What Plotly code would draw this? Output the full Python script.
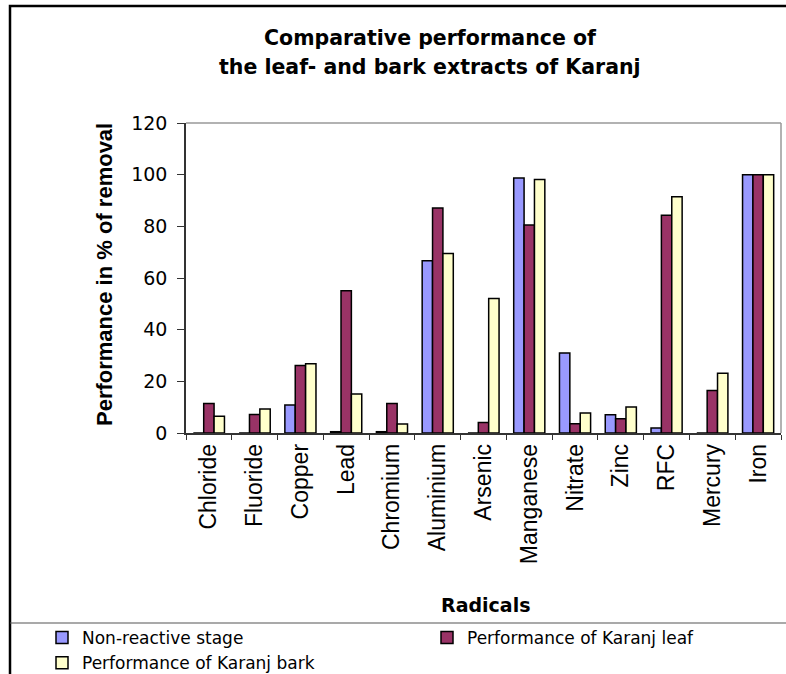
import plotly.graph_objects as go

# 读取数据
radicals = ['Chloride', 'Fluoride', 'Copper', 'Lead', 'Chromium', 'Aluminium', 'Arsenic',
            'Manganese', 'Nitrate', 'Zinc', 'RFC', 'Mercury', 'Iron']
non_reactive = [0, 0, 10.8, 0.5, 0.5, 66.7, 0, 98.7, 31.0, 7.1, 1.9, 0, 100]
karanj_leaf = [11.4, 7.2, 26.1, 55.1, 11.4, 87.1, 4.1, 80.5, 3.6, 5.5, 84.3, 16.5, 100]
karanj_bark = [6.5, 9.3, 26.8, 15.1, 3.5, 69.5, 52.1, 98.1, 7.7, 10.1, 91.5, 23.1, 100]

W, H = 786, 674
L, R, T, B = 186, 781, 123, 433  # 绘图区像素位置

def px(x):
    return (x - L) / (R - L)

def py(y):
    return (B - y) / (B - T)

fig = go.Figure()
for name, vals, col in [('Non-reactive stage', non_reactive, '#9999FF'),
                        ('Performance of Karanj leaf', karanj_leaf, '#993366'),
                        ('Performance of Karanj bark', karanj_bark, '#FFFFCC')]:
    fig.add_trace(go.Bar(x=radicals, y=vals, name=name,
                         marker=dict(color=col, line=dict(color='black', width=1.5))))

wide = 'DejaVu Sans, sans-serif'
narrow = 'Liberation Sans, Arial, sans-serif'
fig.update_layout(
    width=W, height=H,
    margin=dict(l=L, r=W - R, t=T, b=H - B, autoexpand=False),
    paper_bgcolor='white', plot_bgcolor='white',
    barmode='group', bargap=0.32, bargroupgap=0,
    font=dict(family=wide, color='black', size=18),
    showlegend=True,
    legend=dict(orientation='h', x=px(42), xanchor='left', y=py(620), yanchor='top',
                entrywidth=340, entrywidthmode='pixels', traceorder='normal',
                font=dict(size=17, family=wide), itemwidth=30, tracegroupgap=0,
                bgcolor='rgba(0,0,0,0)'),
    xaxis=dict(showline=True, linecolor='#333333', linewidth=1.5, ticks='outside',
               tickson='boundaries', ticklen=5, tickcolor='#333333', tickangle=-90,
               tickfont=dict(size=23, family=narrow), showgrid=False),
    yaxis=dict(range=[0, 120], dtick=20, showline=True, linecolor='#333333', linewidth=1.5,
               ticks='outside', ticklen=7, tickcolor='#333333', showgrid=False,
               ticklabelstandoff=6, tickfont=dict(size=19, family=wide), zeroline=False),
)

# 外框与分隔线
fig.add_shape(type='rect', xref='paper', yref='paper', x0=px(10), x1=px(800),
              y0=py(700), y1=py(6), line=dict(color='black', width=2.5), layer='below')
fig.add_shape(type='line', xref='paper', yref='paper', x0=px(10), x1=px(800),
              y0=py(623), y1=py(623), line=dict(color='#555555', width=1.2))
# 绘图区灰色边框
fig.add_shape(type='line', xref='paper', yref='paper', x0=0, x1=1, y0=1, y1=1,
              line=dict(color='#999999', width=1.5))
fig.add_shape(type='line', xref='paper', yref='paper', x0=1, x1=1, y0=0, y1=1,
              line=dict(color='#999999', width=1.5))

# 标题
ann = dict(xref='paper', yref='paper', showarrow=False, xanchor='center', yanchor='middle')
fig.add_annotation(x=px(430), y=py(38), text='<b>Comparative performance of</b>',
                   font=dict(size=20.5), **ann)
fig.add_annotation(x=px(430), y=py(67), text='<b>the leaf- and bark extracts of Karanj</b>',
                   font=dict(size=20.5), **ann)
fig.add_annotation(x=px(104), y=py(275), text='<b>Performance in % of removal</b>',
                   textangle=-90, font=dict(size=22, family=narrow), **ann)
fig.add_annotation(x=px(485), y=py(605), text='<b>Radicals</b>', font=dict(size=19), **ann)

fig.write_html("out.html", config={'displayModeBar': False},
               post_script="document.body.style.margin='0';")
